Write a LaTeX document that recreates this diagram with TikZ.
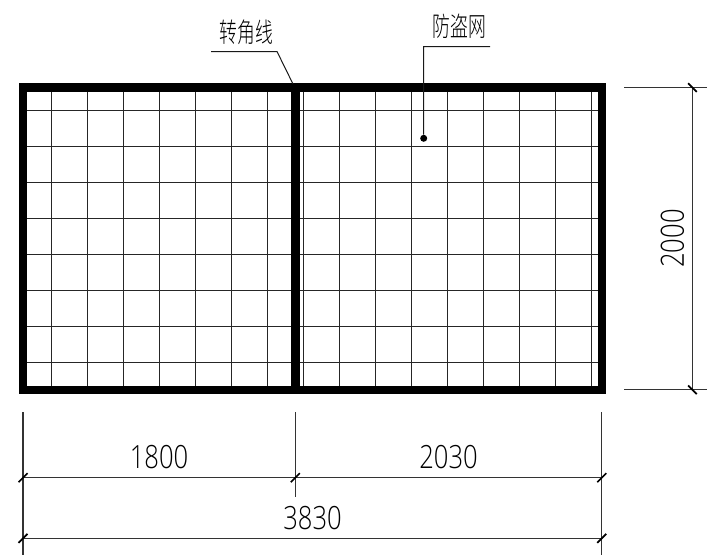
\documentclass[tikz,border=0pt]{standalone}
\usepackage{fontspec}
\usepackage{tikz}
\usetikzlibrary{positioning}
\newfontfamily\cjkfont{Noto Sans CJK SC Light}
\newfontfamily\digitfont{Open Sans Light}
\tikzset{
    framepart/.style={draw=black, line width=8.6pt},
    meshline/.style={draw=black!85, line width=1.2pt},
    dimline/.style={draw=black!80, line width=1.2pt},
    dimtick/.style={draw=black, line width=1.7pt},
    leaderline/.style={draw=black!90, line width=1pt},
    dimtext/.style={inner sep=0pt, xscale=0.8, font=\digitfont\fontsize{32}{32}\selectfont, text=black},
    cjktext/.style={inner sep=0pt, xscale=0.66, font=\cjkfont\fontsize{27}{27}\selectfont, text=black}
}
\begin{document}
\begin{tikzpicture}[x=1pt, y=-1pt]
    \useasboundingbox (0, 0) rectangle (707, 555);

    % mesh
    \draw[meshline] (51.7, 87) -- (51.7, 390);
    \draw[meshline] (87.7, 87) -- (87.7, 390);
    \draw[meshline] (123.7, 87) -- (123.7, 390);
    \draw[meshline] (159.7, 87) -- (159.7, 390);
    \draw[meshline] (195.7, 87) -- (195.7, 390);
    \draw[meshline] (231.7, 87) -- (231.7, 390);
    \draw[meshline] (267.7, 87) -- (267.7, 390);
    \draw[meshline] (303.7, 87) -- (303.7, 390);
    \draw[meshline] (339.7, 87) -- (339.7, 390);
    \draw[meshline] (375.7, 87) -- (375.7, 390);
    \draw[meshline] (411.7, 87) -- (411.7, 390);
    \draw[meshline] (447.7, 87) -- (447.7, 390);
    \draw[meshline] (483.7, 87) -- (483.7, 390);
    \draw[meshline] (519.7, 87) -- (519.7, 390);
    \draw[meshline] (555.7, 87) -- (555.7, 390);
    \draw[meshline] (591.7, 87) -- (591.7, 390);
    \draw[meshline] (23, 110.3) -- (602, 110.3);
    \draw[meshline] (23, 146.3) -- (602, 146.3);
    \draw[meshline] (23, 182.3) -- (602, 182.3);
    \draw[meshline] (23, 218.3) -- (602, 218.3);
    \draw[meshline] (23, 254.3) -- (602, 254.3);
    \draw[meshline] (23, 290.3) -- (602, 290.3);
    \draw[meshline] (23, 326.3) -- (602, 326.3);
    \draw[meshline] (23, 362.3) -- (602, 362.3);

    % frame
    \draw[framepart] (22.8, 87.6) rectangle (601.8, 389.8);
    \draw[framepart] (295.3, 83.3) -- (295.3, 394.2);

    % leaders
    \node[cjktext] (corner) at (246.5, 32) {转角线};
    \node[cjktext] (mesh) at (459.5, 26.5) {防盗网};
    \coordinate (cornerstart) at (211, 51.5);
    \coordinate (cornerbend) at (277, 51.5);
    \coordinate (cornerend) at (293, 84);
    \coordinate (meshstart) at (490, 46.5);
    \coordinate (meshbend) at (423.5, 46.5);
    \node[circle, fill=black, inner sep=0pt, minimum size=7pt] (meshdot) at (423.7, 138.3) {};
    \draw[leaderline] (cornerstart) -- (cornerbend) -- (cornerend);
    \draw[leaderline] (meshstart) -- (meshbend) -- (meshdot);

    % right dimension
    \coordinate (rtop) at (692.4, 87.6);
    \coordinate (rbot) at (692.4, 389.8);
    \draw[dimline] (624, 87.6) -- (707, 87.6);
    \draw[dimline] (624, 389.8) -- (707, 389.8);
    \draw[dimline] (rtop) -- (rbot);
    \draw[dimtick] (rtop) +(-4.3, -4.3) -- +(4.3, 4.3);
    \draw[dimtick] (rbot) +(-4.3, -4.3) -- +(4.3, 4.3);
    \node[rotate=90, dimtext] (hval) at (672.5, 238.5) {2000};

    % bottom dimensions
    \coordinate (aleft) at (23, 477.7);
    \coordinate (amid) at (295.3, 477.7);
    \coordinate (aright) at (601.8, 477.7);
    \coordinate (bleft) at (23, 538.3);
    \coordinate (bright) at (601.8, 538.3);
    \draw[dimline] (23, 412.3) -- (23, 555);
    \draw[dimline] (295.3, 412.3) -- (295.3, 496.7);
    \draw[dimline] (601.8, 412.3) -- (601.8, 555);
    \draw[dimline] (aleft) -- (amid) -- (aright);
    \draw[dimline] (bleft) -- (bright);
    \draw[dimtick] (aleft) +(-4.5, 4.5) -- +(4.5, -4.5);
    \draw[dimtick] (amid) +(-4.5, 4.5) -- +(4.5, -4.5);
    \draw[dimtick] (aright) +(-4.5, 4.5) -- +(4.5, -4.5);
    \draw[dimtick] (bleft) +(-4.5, 4.5) -- +(4.5, -4.5);
    \draw[dimtick] (bright) +(-4.5, 4.5) -- +(4.5, -4.5);
    \node[dimtext] (leftval) at (159, 457.3) {1800};
    \node[dimtext] (rightval) at (448.5, 457.3) {2030};
    \node[dimtext] (totalval) at (312.5, 518) {3830};
\end{tikzpicture}
\end{document}
